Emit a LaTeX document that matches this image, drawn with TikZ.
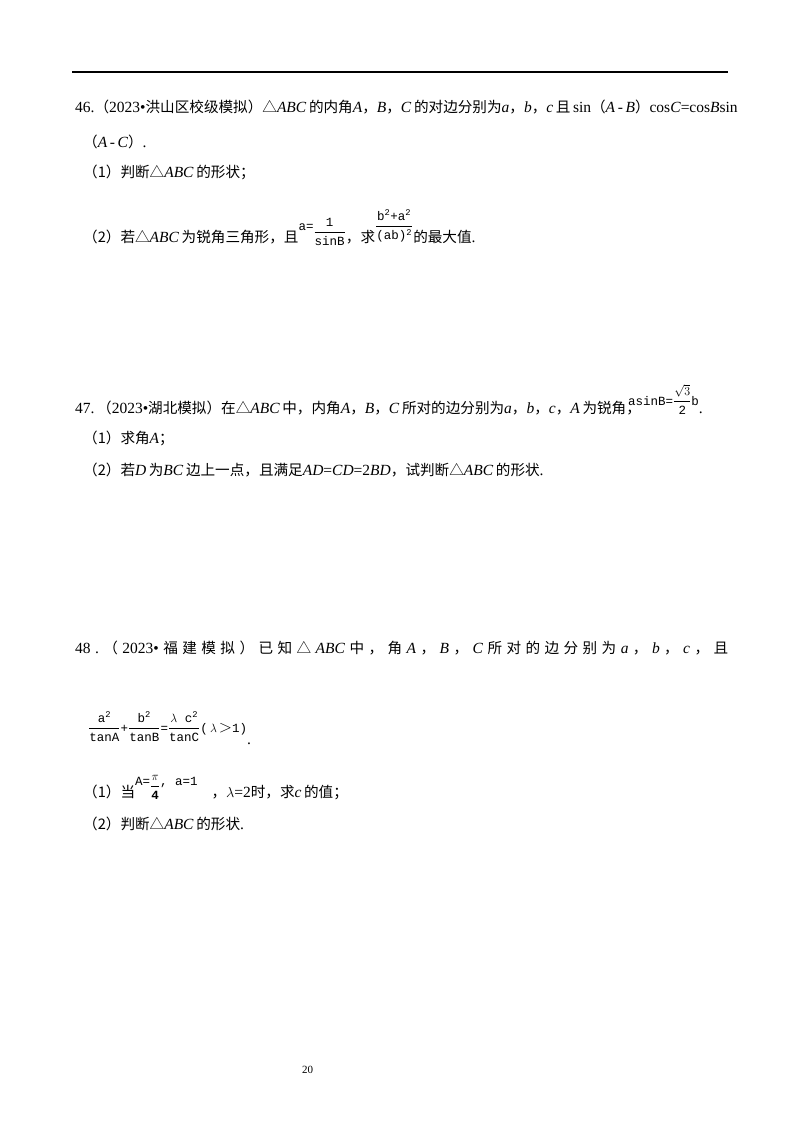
\documentclass[tikz,border=0pt]{standalone}
\usepackage{fontspec}
\setmainfont{Liberation Serif}
\setmonofont{Liberation Mono}
\newfontfamily\cjk{Noto Sans CJK SC}
\newcommand{\zh}[1]{{\cjk\fontsize{14.6}{16}\selectfont #1}}
\newcommand{\tri}{{\cjk\fontsize{14.6}{16}\selectfont △}}
\newcommand{\fm}[1]{{\ttfamily\fontsize{12.5}{14}\selectfont #1}}
\newcommand{\rfrac}[3]{\raisebox{#1}{$\displaystyle\frac{\hbox{#2}}{\hbox{#3}}$}}
\begin{document}
\begin{tikzpicture}[x=1pt,y=-1pt,
  txt/.style={anchor=base west,inner sep=0pt,font=\fontsize{15.5}{17}\selectfont}]
\useasboundingbox (0,0) rectangle (800,1132);
\fill[white] (0,0) rectangle (800,1132);
\draw[line width=1.2pt] (72,72) -- (728,72);
\node[txt] (q46a) at (75,112) {\hbox to 653pt{46.\hskip 4pt plus 1fil minus 4pt\zh{（}2023•\zh{洪山区校级模拟）}\tri\textit{ABC}\,\zh{的内角}\textit{A}\zh{，}\textit{B}\zh{，}\textit{C}\,\zh{的对边分别为}\textit{a}\zh{，}\textit{b}\zh{，}\textit{c}\,\zh{且}\,sin\zh{（}\textit{A}\,-\,\textit{B}\zh{）}cos\textit{C}=cos\textit{B}sin}};
\node[txt] (q46b) at (83,147) {\zh{（}\textit{A}\,-\,\textit{C}\zh{）}.};
\node[txt] (q46c) at (83,177) {\zh{（1）判断}\tri\textit{ABC}\,\zh{的形状；}};
\node[txt] (q46d) at (83,242) {\zh{（2）若}\tri\textit{ABC}\,\zh{为锐角三角形，且}\raisebox{12pt}{\fm{a=}}\rfrac{6pt}{\fm{1}}{\fm{sinB}}\zh{，求}\rfrac{12pt}{\fm{b\textsuperscript{2}+a\textsuperscript{2}}}{\fm{(ab)\textsuperscript{2}}}\zh{的最大值}.};

\node[txt] (q47a) at (75,413) {47.\,\zh{（}2023•\zh{湖北模拟）在}\tri\textit{ABC}\,\zh{中，内角}\textit{A}\zh{，}\textit{B}\zh{，}\textit{C}\,\zh{所对的边分别为}\textit{a}\zh{，}\textit{b}\zh{，}\textit{c}\zh{，}\textit{A}\,\zh{为锐角，}};
\node[txt] (f3) at (628,413) {\raisebox{8pt}{\fm{asinB=}}\rfrac{8pt}{\fm{$\sqrt{3}$}}{\fm{2}}\raisebox{8pt}{\fm{b}}.};
\node[txt] (q47b) at (83,443) {\zh{（1）求角}\textit{A}\zh{；}};
\node[txt] (q47c) at (83,475) {\zh{（2）若}\textit{D}\,\zh{为}\textit{BC}\,\zh{边上一点，且满足}\textit{AD}=\textit{CD}=2\textit{BD}\zh{，试判断}\tri\textit{ABC}\,\zh{的形状}.};

\node[txt] (q48a) at (75,653) {\hbox to 653pt{48\hfill.\hfill\zh{（}\hfill2023•\hfill\zh{福}\hfill\zh{建}\hfill\zh{模}\hfill\zh{拟}\hfill\zh{）}\hfill\zh{已}\hfill\zh{知}\hfill\tri\hfill\textit{ABC}\hfill\zh{中}\hfill\zh{，}\hfill\zh{角}\hfill\textit{A}\hfill\zh{，}\hfill\textit{B}\hfill\zh{，}\hfill\textit{C}\hfill\zh{所}\hfill\zh{对}\hfill\zh{的}\hfill\zh{边}\hfill\zh{分}\hfill\zh{别}\hfill\zh{为}\hfill\textit{a}\hfill\zh{，}\hfill\textit{b}\hfill\zh{，}\hfill\textit{c}\hfill\zh{，}\hfill\zh{且}}};
\node[txt] (q48f) at (88,732) {$\displaystyle\frac{\hbox{\fm{a\textsuperscript{2}}}}{\hbox{\fm{tanA}}}$\fm{+}$\displaystyle\frac{\hbox{\fm{b\textsuperscript{2}}}}{\hbox{\fm{tanB}}}$\fm{=}$\displaystyle\frac{\hbox{\fm{$\lambda$ c\textsuperscript{2}}}}{\hbox{\fm{tanC}}}$\fm{(\,$\lambda$\,}{\fontsize{16}{17}\selectfont$>$}\fm{1)}\raisebox{-12pt}{.}};
\node[txt] (q48b) at (83,797) {\zh{（1）当}\raisebox{12pt}{\fm{A=}}\rfrac{7pt}{\fm{$\pi$}}{\fm{\textbf{4}}}\raisebox{12pt}{\fm{,\ a=1}}\hspace{14pt}\zh{，}$\lambda$=2\zh{时，求}\textit{c}\,\zh{的值；}};
\node[txt] (q48d) at (83,829) {\zh{（2）判断}\tri\textit{ABC}\,\zh{的形状}.};
\node[txt,font=\fontsize{11}{12}\selectfont] (pg) at (302,1073) {20};
\end{tikzpicture}
\end{document}
